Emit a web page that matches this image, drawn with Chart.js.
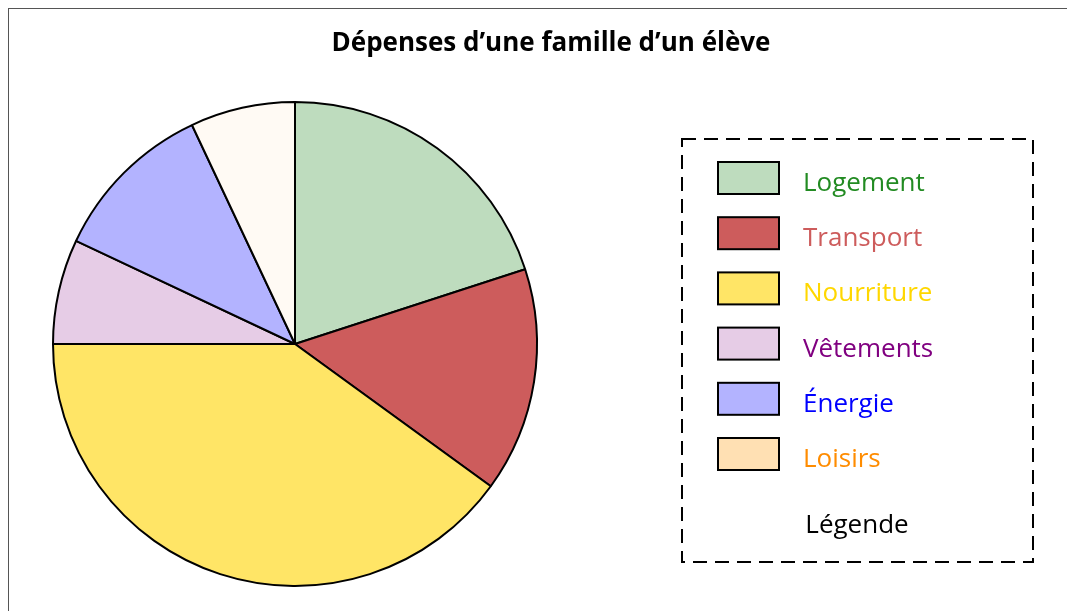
<!DOCTYPE html>
<html lang="fr">
<head>
<meta charset="utf-8">
<title>Dépenses d’une famille</title>
<script src="https://cdn.jsdelivr.net/npm/chart.js@4"></script>
<style>
  html, body { margin: 0; padding: 0; background: #fff; overflow: hidden; }
  #frame {
    position: absolute; left: 8px; top: 8px;
    width: 1100px; height: 700px;
    border: 1.5px solid #555;
  }
  #expenses { position: absolute; left: 0; top: 0; }
</style>
</head>
<body>
<div id="frame"></div>
<canvas id="expenses" width="1067" height="611"></canvas>
<script>
// Household spending split (percent of budget)
const categories = ['Logement', 'Transport', 'Nourriture', 'Vêtements', 'Énergie', 'Loisirs'];
const shares = [20, 15, 40, 7, 11, 7];

const sliceColors = ['#bedcbe', '#cd5c5c', '#ffe566', '#e6cce6', '#b3b3ff', '#fffaf4'];
const swatchColors = ['#bedcbe', '#cd5c5c', '#ffe566', '#e6cce6', '#b3b3ff', '#ffe0b3'];
const labelColors = ['#228b22', '#cd5c5c', '#ffd700', '#800080', '#0000ff', '#ff8c00'];

const chartTitle = 'Dépenses d’une famille d’un élève';
const legendTitle = 'Légende';

const FONT = '"Open Sans", "Noto Sans", sans-serif';

// title + dashed legend box drawn by hand
const decorations = {
  id: 'decorations',
  afterDraw(chart) {
    const ctx = chart.ctx;
    ctx.save();

    ctx.fillStyle = '#000';
    ctx.font = 'bold 26px ' + FONT;
    ctx.textAlign = 'center';
    ctx.textBaseline = 'alphabetic';
    ctx.fillText(chartTitle, 551, 51);

    // legend frame
    ctx.strokeStyle = '#000';
    ctx.lineWidth = 2;
    ctx.setLineDash([14, 8]);
    ctx.strokeRect(682, 139, 351, 423);
    ctx.setLineDash([]);

    const labels = chart.data.labels;
    labels.forEach((label, i) => {
      const y = 162 + i * 55.2;
      ctx.fillStyle = swatchColors[i];
      ctx.fillRect(718, y, 61, 32);
      ctx.lineWidth = 2;
      ctx.strokeStyle = '#000';
      ctx.strokeRect(718, y, 61, 32);

      ctx.fillStyle = labelColors[i];
      ctx.font = '26px ' + FONT;
      ctx.textAlign = 'left';
      ctx.fillText(label, 803, y + 29);
    });

    ctx.fillStyle = '#000';
    ctx.textAlign = 'center';
    ctx.font = '26px ' + FONT;
    ctx.fillText(legendTitle, 857, 533);
    ctx.restore();
  }
};

const ctx = document.getElementById('expenses').getContext('2d');
new Chart(ctx, {
  type: 'pie',
  data: {
    labels: categories,
    datasets: [{
      data: shares,
      backgroundColor: sliceColors,
      borderColor: '#000',
      borderWidth: 2,
      borderAlign: 'center'
    }]
  },
  options: {
    responsive: false,
    animation: false,
    layout: {
      padding: { left: 52, top: 101, right: 529, bottom: 24 }
    },
    plugins: {
      legend: { display: false },
      title: { display: false },
      tooltip: { enabled: false }
    }
  },
  plugins: [decorations]
});
</script>
</body>
</html>
